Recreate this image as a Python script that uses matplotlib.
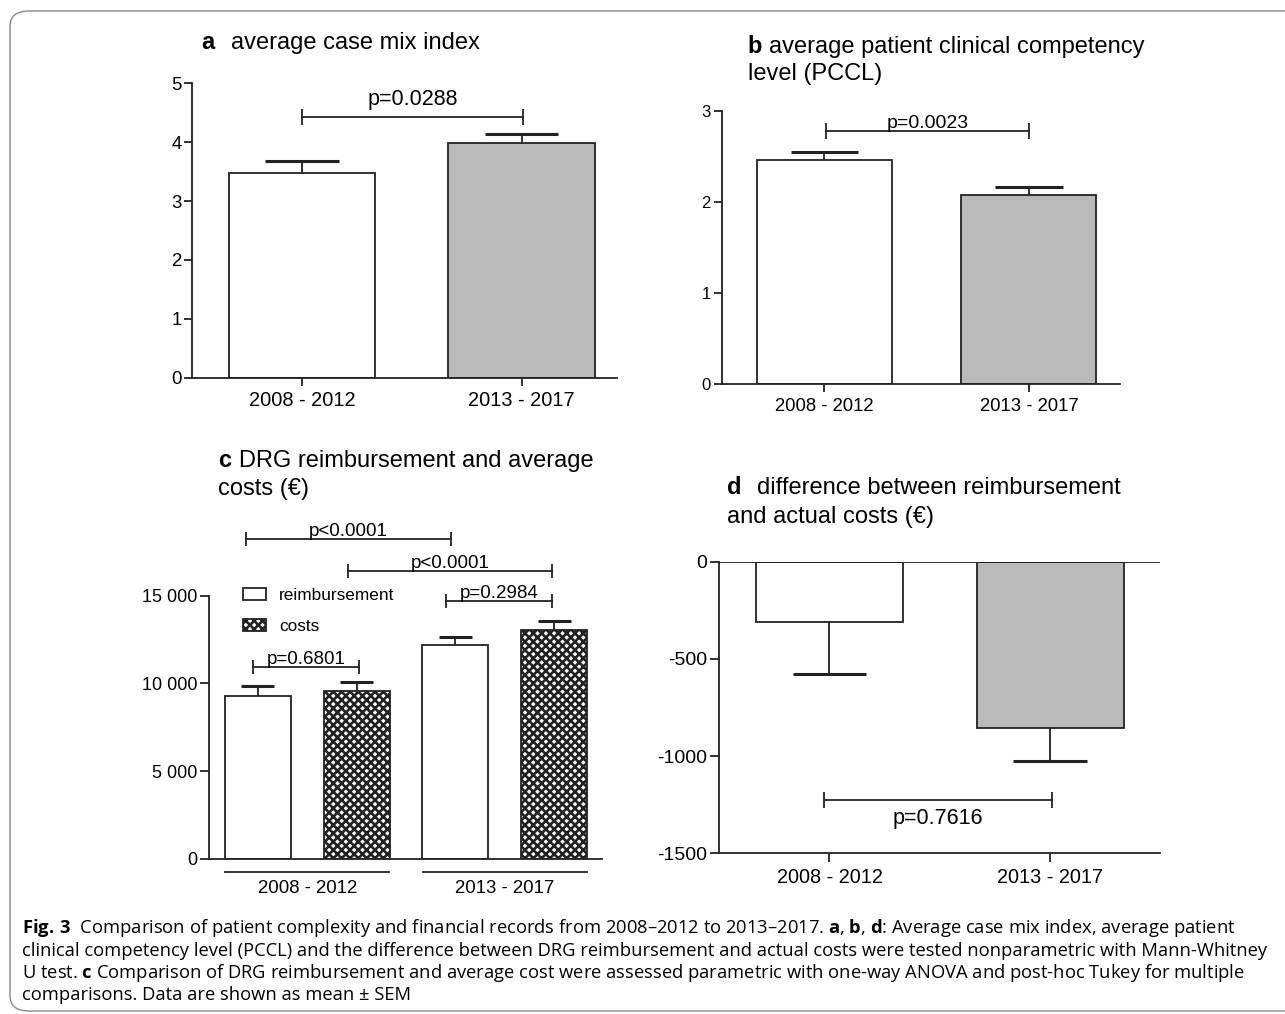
import numpy as np
import matplotlib
matplotlib.use("Agg")
import matplotlib.pyplot as plt
from matplotlib.patches import FancyBboxPatch
from matplotlib.ticker import FuncFormatter

# -----------------------------
# DATA
# -----------------------------
periods = ["2008 - 2012", "2013 - 2017"]

cmi_mean = [3.47, 3.99]
cmi_sem = [0.21, 0.15]
cmi_p = "p=0.0288"

pccl_mean = [2.46, 2.08]
pccl_sem = [0.09, 0.08]
pccl_p = "p=0.0023"

drg_labels = ["reimbursement", "costs", "reimbursement", "costs"]
drg_mean = [9280, 9580, 12190, 13050]
drg_sem = [570, 500, 475, 530]
# brackets: (x1, x2, y, label)
drg_brackets = [
    (-0.12, 1.95, 18220, "p<0.0001"),
    (0.91, 2.975, 16430, "p<0.0001"),
    (1.905, 2.975, 14700, "p=0.2984"),
    (-0.05, 1.02, 10950, "p=0.6801"),
]

diff_mean = [-310, -855]
diff_sem = [266, 171]
diff_p = "p=0.7616"

# -----------------------------
# STYLE
# -----------------------------
plt.rcParams["font.family"] = ["Liberation Sans", "DejaVu Sans"]
plt.rcParams["axes.unicode_minus"] = False
plt.rcParams["mathtext.fontset"] = "custom"
plt.rcParams["mathtext.rm"] = "Open Sans"
plt.rcParams["mathtext.bf"] = "Open Sans:bold"
plt.rcParams["hatch.linewidth"] = 1.9

W, H = 1285, 1014
LINE = "#222222"
GREY = "#b8b9b8"
LW = 1.3

fig = plt.figure(figsize=(W / 100, H / 100), dpi=100)


def px_axes(l, t, r, b):
    return fig.add_axes([l / W, 1 - b / H, (r - l) / W, (b - t) / H])


def style(ax, ysize, xsize, tlen):
    for s in ["top", "right"]:
        ax.spines[s].set_visible(False)
    for s in ["left", "bottom"]:
        ax.spines[s].set_linewidth(LW)
        ax.spines[s].set_color(LINE)
    ax.tick_params(axis="both", direction="out", length=tlen, width=LW,
                   color=LINE)
    ax.tick_params(axis="y", labelsize=ysize, pad=2)
    ax.tick_params(axis="x", labelsize=xsize, pad=4)


def err_bars(ax, x, m, e, half, sign=1):
    x = np.asarray(x, float)
    ends = np.asarray(m) + sign * np.asarray(e)
    ax.vlines(x, m, ends, color=LINE, lw=1.3, zorder=1)
    ax.hlines(ends, x - half, x + half, color=LINE, lw=2.2, zorder=1)


def bracket(ax, x1, x2, y, label, ms, dy, size, va="baseline"):
    ax.plot([x1, x2], [y, y], color=LINE, lw=LW, marker="|", ms=ms,
            mew=LW, clip_on=False)
    ax.annotate(label, xy=((x1 + x2) / 2, y), xytext=(0, dy),
                textcoords="offset points", ha="center", va=va,
                fontsize=size, annotation_clip=False)


def title(x_letter, x_text, y1, letter, line1, line2=None, y2=None):
    fig.text(x_letter / W, 1 - y1 / H, letter, fontsize=17,
             fontweight="bold", va="baseline")
    fig.text(x_text / W, 1 - y1 / H, line1, fontsize=17, va="baseline")
    if line2:
        fig.text(x_letter / W, 1 - y2 / H, line2, fontsize=17, va="baseline")


x2 = np.arange(2)

# -----------------------------
# PANEL A
# -----------------------------
ax = px_axes(192.3, 83.3, 617, 377.7)
ax.bar(x2, cmi_mean, width=0.667, color=["white", GREY], edgecolor=LINE,
       lw=LW, zorder=2)
err_bars(ax, x2, cmi_mean, cmi_sem, 0.167)
ax.set_ylim(0, 5)
ax.set_xlim(-0.5, 1.435)
ax.set_yticks(range(6))
ax.set_xticks(x2)
ax.set_xticklabels(periods)
style(ax, 13.4, 14.4, 5.8)
bracket(ax, 0, 1.007, 4.43, cmi_p, 11, 8.5, 15.5)
title(201.7, 230.7, 49.3, "a", "average case mix index")

# -----------------------------
# PANEL B
# -----------------------------
ax = px_axes(722, 111, 1120, 384)
ax.bar(x2, pccl_mean, width=0.66, color=["white", GREY], edgecolor=LINE,
       lw=LW, zorder=2)
err_bars(ax, x2, pccl_mean, pccl_sem, 0.165)
ax.set_ylim(0, 3)
ax.set_xlim(-0.501, 1.445)
ax.set_yticks(range(4))
ax.set_xticks(x2)
ax.set_xticklabels(periods)
style(ax, 12, 13.3, 6)
bracket(ax, 0.007, 1.0, 2.78, pccl_p, 11, 2, 14)
title(747.7, 769.3, 53.3, "b", "average patient clinical competency",
      "level (PCCL)", 80)

# -----------------------------
# PANEL C
# -----------------------------
ax = px_axes(209, 595.7, 601.7, 858.7)
x4 = np.arange(4)
bars = ax.bar(x4, drg_mean, width=0.668, color="white", edgecolor=LINE,
              lw=LW, zorder=2)
for b in bars[1::2]:
    b.set_hatch("xxxx")
err_bars(ax, x4, drg_mean, drg_sem, 0.167)
ax.set_ylim(0, 15000)
ax.set_xlim(-0.494, 3.48)
ax.set_yticks([0, 5000, 10000, 15000])
ax.yaxis.set_major_formatter(FuncFormatter(lambda v, p: f"{v:,.0f}".replace(",", " ")))
ax.set_xticks([])
style(ax, 13, 13.4, 6.5)
for (a, b_, y, lab) in drg_brackets:
    bracket(ax, a, b_, y, lab, 10, 2, 13.5)
for g in range(2):
    ax.plot([2 * g - 0.33, 2 * g + 1.33], [-742, -742], color=LINE, lw=LW,
            clip_on=False)
    ax.text(2 * g + 0.5, -1215, periods[g], ha="center", va="top",
            fontsize=13.4)
ax.legend(handles=[bars[0], bars[1]], labels=drg_labels[:2], loc="upper left",
          bbox_to_anchor=(0.0866, 1.028), frameon=False, fontsize=12.4,
          handlelength=1.35, handleheight=0.7, handletextpad=0.75,
          labelspacing=0.88, borderpad=0, borderaxespad=0)
title(217.7, 239.3, 467.3, "c", "DRG reimbursement and average",
      "costs (\u20ac)", 495)

# -----------------------------
# PANEL D
# -----------------------------
ax = px_axes(719.3, 561.7, 1160, 853.3)
ax.bar(x2, diff_mean, width=0.668, color=["white", GREY], edgecolor=LINE,
       lw=LW, zorder=2)
err_bars(ax, x2, diff_mean, diff_sem, 0.167, sign=-1)
ax.axhline(0, color=LINE, lw=LW, zorder=3)
ax.set_ylim(-1500, 0)
ax.set_xlim(-0.499, 1.497)
ax.set_yticks([0, -500, -1000, -1500])
ax.yaxis.set_major_formatter(FuncFormatter(lambda v, p: f"{int(v)}"))
ax.set_xticks(x2)
ax.set_xticklabels(periods)
style(ax, 14, 14.3, 6.5)
bracket(ax, -0.025, 1.01, -1226, diff_p, 11.5, -6, 15.5, va="top")
title(727.3, 757.3, 494.3, "d", "difference between reimbursement",
      "and actual costs (\u20ac)", 523.3)

# -----------------------------
# CAPTION + FRAME
# -----------------------------
cap_lines = [
    r"$\mathbf{Fig.\,3}$  Comparison of patient complexity and financial records from 2008–2012 to 2013–2017. $\mathbf{a}$, $\mathbf{b}$, $\mathbf{d}$: Average case mix index, average patient",
    "clinical competency level (PCCL) and the difference between DRG reimbursement and actual costs were tested nonparametric with Mann-Whitney",
    r"U test. $\mathbf{c}$ Comparison of DRG reimbursement and average cost were assessed parametric with one-way ANOVA and post-hoc Tukey for multiple",
    "comparisons. Data are shown as mean ± SEM",
]
cap_y = [933.3, 955.5, 977.8, 1000]
cap_texts = [fig.text(22 / W, 1 - y / H, s, fontsize=12, va="baseline",
                      family="Open Sans") for s, y in zip(cap_lines, cap_y)]
r = fig.canvas.get_renderer()
w0 = max(t.get_window_extent(r).width for t in cap_texts)
fs = 12 * 1238 / w0
for t in cap_texts:
    t.set_fontsize(fs)

frame = FancyBboxPatch((10 / W, 1 - 1011 / H), 1300 / W, 1000 / H,
                       boxstyle="round,pad=0,rounding_size=0.015",
                       transform=fig.transFigure, fill=False,
                       edgecolor="#8a8a8a", lw=1.0, clip_on=False)
fig.patches.append(frame)

fig.savefig("out.png", dpi=100)
